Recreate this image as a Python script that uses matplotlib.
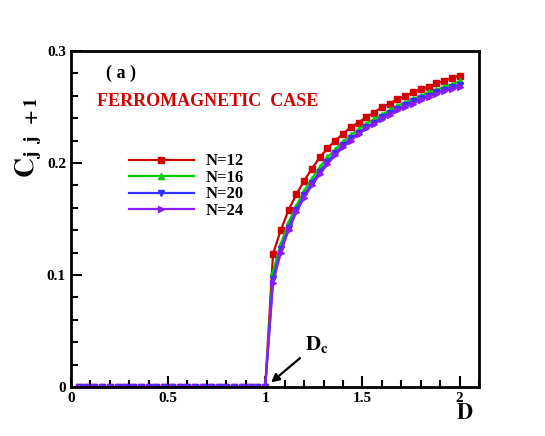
import matplotlib.pyplot as plt
import numpy as np

plt.rcParams["font.family"] = "Liberation Serif"
plt.rcParams["font.weight"] = "bold"
plt.rcParams["mathtext.fontset"] = "stix"

# D grid: zero region and ordered region
d_low = [0.04, 0.08, 0.12, 0.16, 0.20, 0.24, 0.28, 0.32, 0.36, 0.40,
         0.44, 0.48, 0.52, 0.56, 0.60, 0.64, 0.68, 0.72, 0.76, 0.80,
         0.84, 0.88, 0.92, 0.96, 1.00]
d_high = [1.04, 1.08, 1.12, 1.16, 1.20, 1.24, 1.28, 1.32, 1.36, 1.40,
          1.44, 1.48, 1.52, 1.56, 1.60, 1.64, 1.68, 1.72, 1.76, 1.80,
          1.84, 1.88, 1.92, 1.96, 2.00]

c_n12 = [0.119, 0.140, 0.158, 0.172, 0.184, 0.195, 0.205, 0.213, 0.220, 0.226,
         0.232, 0.236, 0.241, 0.245, 0.250, 0.253, 0.257, 0.260, 0.263, 0.266,
         0.268, 0.271, 0.273, 0.276, 0.278]
c_n16 = [0.103, 0.128, 0.147, 0.162, 0.175, 0.186, 0.196, 0.205, 0.212, 0.219,
         0.225, 0.230, 0.235, 0.239, 0.243, 0.247, 0.251, 0.254, 0.257, 0.260,
         0.263, 0.265, 0.268, 0.270, 0.273]
c_n20 = [0.096, 0.123, 0.142, 0.158, 0.171, 0.182, 0.192, 0.201, 0.209, 0.216,
         0.222, 0.227, 0.232, 0.236, 0.241, 0.245, 0.248, 0.252, 0.255, 0.258,
         0.260, 0.263, 0.265, 0.268, 0.270]
c_n24 = [0.093, 0.120, 0.140, 0.156, 0.169, 0.180, 0.190, 0.199, 0.207, 0.214,
         0.220, 0.226, 0.231, 0.235, 0.239, 0.243, 0.247, 0.250, 0.253, 0.256,
         0.259, 0.262, 0.264, 0.266, 0.268]

labels = ["N=12", "N=16", "N=20", "N=24"]
colors = ["#d40000", "#00cc00", "#3333ff", "#8a1cff"]
markers = ["s", "^", "v", ">"]

fig = plt.figure(figsize=(5.45, 4.36), dpi=100)
ax = fig.add_axes([0.130, 0.1124, 0.749, 0.7706])

d_all = d_low + d_high
for vals, lab, col, mk in zip([c_n12, c_n16, c_n20, c_n24], labels, colors, markers):
    c_all = [0.0] * len(d_low) + vals
    ax.plot(d_all, c_all, color=col, marker=mk, markersize=4.5,
            linewidth=1.6, label=lab)

ax.set_xlim(0, 2.1)
ax.set_ylim(0, 0.3)
ax.set_xticks([0, 0.5, 1, 1.5, 2])
ax.set_xticklabels(["0", "0.5", "1", "1.5", "2"])
ax.set_xticks(np.arange(0, 2.11, 0.1), minor=True)
ax.set_yticks([0, 0.1, 0.2, 0.3])
ax.set_yticklabels(["0", "0.1", "0.2", "0.3"])
ax.set_yticks(np.arange(0, 0.301, 0.02), minor=True)
ax.tick_params(which="both", direction="in", top=False, right=False,
               width=1.5, labelsize=11)
ax.tick_params(which="major", length=8)
ax.tick_params(which="minor", length=5)
for lab in ax.get_xticklabels() + ax.get_yticklabels():
    lab.set_fontweight("bold")
for sp in ax.spines.values():
    sp.set_linewidth(2)

leg = ax.legend(loc="upper left", bbox_to_anchor=(0.105, 0.74), frameon=False,
                handlelength=3.9, handletextpad=0.7, labelspacing=0.03,
                prop={"weight": "bold", "size": 12})

ax.text(0.085, 0.935, "( a )", transform=ax.transAxes, fontsize=13,
        fontweight="bold", va="center")
ax.text(0.065, 0.85, "FERROMAGNETIC  CASE", transform=ax.transAxes,
        fontsize=13, fontweight="bold", color="#d40000", va="center")

fig.text(0.052, 0.685, r"$\mathbf{C}_{\mathbf{j\;\;j\;\;+1}}$", rotation=90,
         fontsize=20, ha="center", va="center")
fig.text(0.853, 0.05, r"$\mathbf{D}$", fontsize=16, ha="center", va="center")

ax.annotate(r"$\mathbf{D_c}$", xy=(1.03, 0.004), xytext=(1.265, 0.029),
            fontsize=15, ha="center", va="bottom",
            arrowprops=dict(arrowstyle="-|>", color="black", lw=1.6,
                            mutation_scale=12, shrinkA=2, shrinkB=0))

fig.savefig("out.png", dpi=100)
